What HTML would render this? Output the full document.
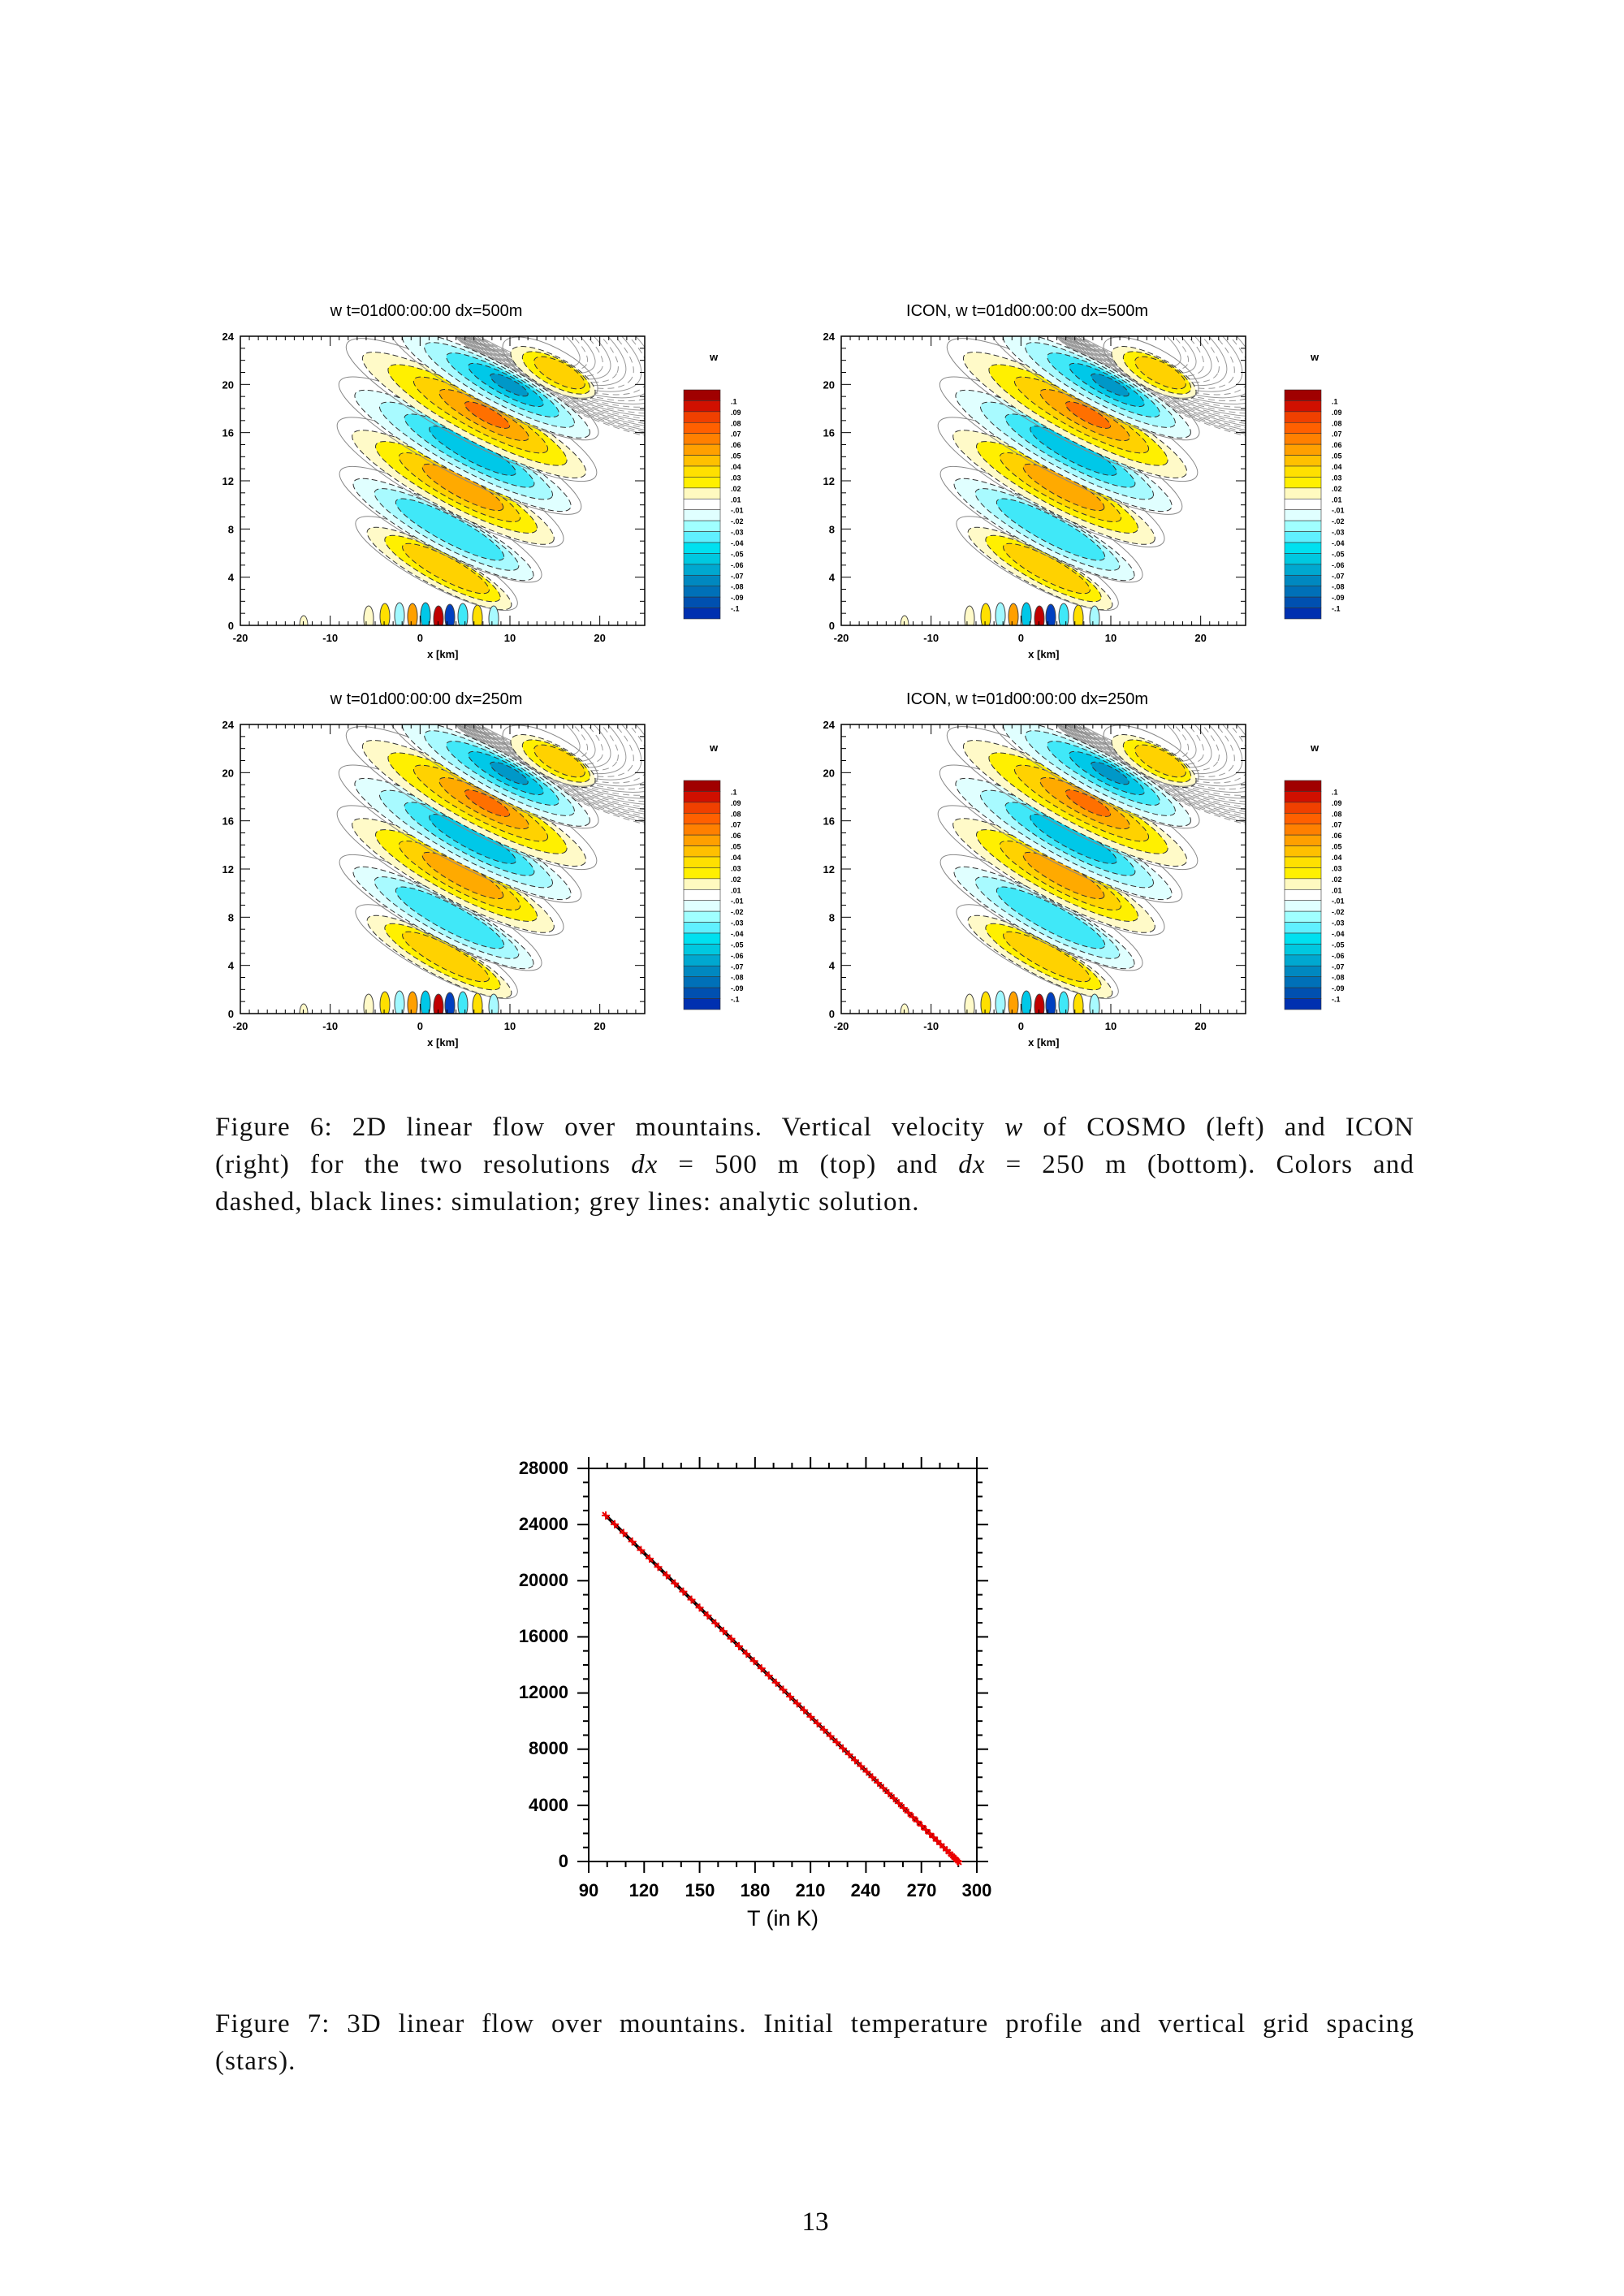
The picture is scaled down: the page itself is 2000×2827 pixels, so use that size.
<!DOCTYPE html>
<html><head><meta charset="utf-8">
<style>
html,body{margin:0;padding:0;background:#fff}
body{width:2000px;height:2827px;position:relative;overflow:hidden}
.cap{position:absolute;left:265px;width:1477px;font-family:"Liberation Serif",serif;font-size:33px;letter-spacing:1.1px;line-height:46px;text-align:justify;color:#111}
.cap .l{display:block;text-align-last:justify}
.cap .last{text-align-last:left}
svg text{font-family:"Liberation Sans",sans-serif}
</style></head><body>
<svg id="topsvg" width="2000" height="1340" style="position:absolute;left:0;top:0"></svg>
<div class="cap" style="top:1365px"><span class="l">Figure 6: 2D linear flow over mountains. Vertical velocity <i>w</i> of COSMO (left) and ICON</span><span class="l">(right) for the two resolutions <i>dx</i> = 500 m (top) and <i>dx</i> = 250 m (bottom). Colors and</span><span class="l last">dashed, black lines: simulation; grey lines: analytic solution.</span></div>
<svg width="2000" height="660" style="position:absolute;left:0;top:1760px">
<g transform="translate(0,-1760)" font-family="Liberation Sans,sans-serif">
<rect x="725" y="1808" width="478" height="484" fill="none" stroke="#000" stroke-width="2"/>
<g id="t2" stroke="#000" stroke-width="2"></g>
<line x1="746" y1="1866" x2="1180" y2="2292" stroke="#000" stroke-width="4"/>
<g id="stars" stroke="#e00" stroke-width="2"></g>
<g font-size="22" text-anchor="end" fill="#000" font-weight="bold">
<text x="700" y="1815">28000</text><text x="700" y="1884">24000</text><text x="700" y="1953">20000</text><text x="700" y="2022">16000</text><text x="700" y="2091">12000</text><text x="700" y="2160">8000</text><text x="700" y="2230">4000</text><text x="700" y="2299">0</text></g>
<g font-size="22" text-anchor="middle" fill="#000" font-weight="bold">
<text x="725" y="2335">90</text><text x="793" y="2335">120</text><text x="862" y="2335">150</text><text x="930" y="2335">180</text><text x="998" y="2335">210</text><text x="1066" y="2335">240</text><text x="1135" y="2335">270</text><text x="1203" y="2335">300</text>
<text x="964" y="2371" font-size="27" font-weight="normal">T (in K)</text></g>
</g></svg>
<div class="cap" style="top:2469px"><span class="l">Figure 7: 3D linear flow over mountains. Initial temperature profile and vertical grid spacing</span><span class="l last">(stars).</span></div>
<div style="position:absolute;top:2718px;left:0;width:2008px;text-align:center;font-family:'Liberation Serif',serif;font-size:33px">13</div>
<script>
var NS="http://www.w3.org/2000/svg";
function el(p,t,a,txt){var e=document.createElementNS(NS,t);for(var k in a)e.setAttribute(k,a[k]);if(txt!==undefined)e.textContent=txt;p.appendChild(e);return e;}
var svgTop=document.getElementById('topsvg');
var Y=["#fffac8","#fff000","#ffd200","#ffaa00","#ff7000"];
var B=["#e0ffff","#a8faff","#40e8f8","#00c8e8","#0098c8"];
var bands=[[245,286,100,22,Y,3],[250,238,125,25,B,3],[262,186,140,28,Y,4],[274,141,150,28,B,4],[288,97,155,30,Y,5],[315,60,130,26,B,5],[385,45,58,20,Y,3]];
var cb=["#a00000","#d01000","#f04000","#ff6000","#ff8000","#ffa000","#ffc000","#ffe000","#fff000","#fffac0","#ffffff","#e0ffff","#a0ffff","#60f0ff","#00e0f0","#00c8e0","#00a8d0","#0088c0","#0070b8","#0050b0","#0030b0"];
var labs=[".1",".09",".08",".07",".06",".05",".04",".03",".02",".01","-.01","-.02","-.03","-.04","-.05","-.06","-.07","-.08","-.09","-.1"];
function panel(x0,y0,title,cbx,cby){
 var W=498,H=356;
 el(svgTop,'text',{x:x0+W/2-20,y:y0-25,'font-size':20,'text-anchor':'middle'},title);
 var g=el(svgTop,'g',{transform:'translate('+x0+','+y0+')'});
 var cp=el(g,'clipPath',{id:'c'+x0+'_'+y0});el(cp,'rect',{x:0,y:0,width:W,height:H});
 var gg=el(g,'g',{'clip-path':'url(#c'+x0+'_'+y0+')'});
 for(var i=0;i<26;i++){el(gg,'ellipse',{cx:320+i*4,cy:-20,rx:110+i*6,ry:30+i*3,transform:'rotate(28 '+(320+i*4)+' -20)',fill:'none',stroke:'#999','stroke-width':1,'stroke-dasharray':i%2?'8 5':'none'});}
 bands.forEach(function(b){
  var n=b[5];
  for(var k=0;k<n;k++){var f=1-k*0.2;
   el(gg,'ellipse',{cx:b[0]+k*4,cy:b[1],rx:b[2]*f,ry:b[3]*(1-k*0.18),transform:'rotate(28 '+(b[0]+k*4)+' '+b[1]+')',fill:b[4][k],stroke:'#333','stroke-width':1,'stroke-dasharray':'7 4'});}
  el(gg,'ellipse',{cx:b[0]-6,cy:b[1]-4,rx:b[2]*1.12,ry:b[3]*1.25,transform:'rotate(28 '+b[0]+' '+b[1]+')',fill:'none',stroke:'#888','stroke-width':1});
 });
 var bl=[[158,348,'#fffac8'],[178,345,'#ffe000'],[196,344,'#a0f8ff'],[212,345,'#ffa000'],[228,344,'#00c8e8'],[244,348,'#c00000'],[258,346,'#0040c0'],[274,345,'#40e8f8'],[292,347,'#ffe000'],[312,348,'#a8faff']];
 bl.forEach(function(b){el(gg,'ellipse',{cx:b[0],cy:b[1],rx:6,ry:16,fill:b[2],stroke:'#444','stroke-width':1});});
 el(gg,'ellipse',{cx:78,cy:356,rx:5,ry:12,fill:'#fffac8',stroke:'#444'});
 el(g,'rect',{x:0,y:0,width:W,height:H,fill:'none',stroke:'#000','stroke-width':1.5});
 for(var z=0;z<=24;z++){var yy=H-z*H/24,L=z%4==0?12:6;el(g,'line',{x1:0,y1:yy,x2:L,y2:yy,stroke:'#000'});el(g,'line',{x1:W,y1:yy,x2:W-L,y2:yy,stroke:'#000'});
  if(z%4==0)el(g,'text',{x:-8,y:yy+5,'font-size':13,'font-weight':'bold','text-anchor':'end'},''+z);}
 for(var k=-20;k<=25;k++){var xx=(k+20)*W/45,L=k%10==0?12:5;el(g,'line',{x1:xx,y1:H,x2:xx,y2:H-L,stroke:'#000'});el(g,'line',{x1:xx,y1:0,x2:xx,y2:L,stroke:'#000'});
  if(k%10==0)el(g,'text',{x:xx,y:H+20,'font-size':13,'font-weight':'bold','text-anchor':'middle'},''+k);}
 el(g,'text',{x:W*20/45+28,y:H+40,'font-size':13,'font-weight':'bold','text-anchor':'middle'},'x [km]');
 var h=282/21;
 el(svgTop,'text',{x:cbx+37,y:cby-36,'font-size':13,'font-weight':'bold','text-anchor':'middle'},'w');
 cb.forEach(function(c,i){el(svgTop,'rect',{x:cbx,y:cby+i*h,width:45,height:h,fill:c,stroke:'#333','stroke-width':0.6});});
 labs.forEach(function(l,i){el(svgTop,'text',{x:cbx+58,y:cby+(i+1)*h+4,'font-size':9,'font-weight':'bold'},l);});
}
panel(296,414,"w t=01d00:00:00 dx=500m",842,480);
panel(1036,414,"ICON, w t=01d00:00:00 dx=500m",1582,480);
panel(296,892,"w t=01d00:00:00 dx=250m",842,961);
panel(1036,892,"ICON, w t=01d00:00:00 dx=250m",1582,961);
var t2=document.getElementById('t2');
for(var v=0;v<=28000;v+=1000){var y=2292-v*484/28000,L=v%4000==0?14:7;el(t2,'line',{x1:725,y1:y,x2:725-L,y2:y});el(t2,'line',{x1:1203,y1:y,x2:1203+L,y2:y});}
for(var t=90;t<=300;t+=10){var x=725+(t-90)*478/210,L=(t%30==0)?14:7;el(t2,'line',{x1:x,y1:2292,x2:x,y2:2292+L});el(t2,'line',{x1:x,y1:1808,x2:x,y2:1808-L});}
var st=document.getElementById('stars');
for(var i=0;i<60;i++){var f=Math.pow(i/59,1.5);var x=1180-f*434,y=2292-f*426;
 el(st,'line',{x1:x-5,y1:y,x2:x+5,y2:y});el(st,'line',{x1:x,y1:y-5,x2:x,y2:y+5});el(st,'line',{x1:x-4,y1:y-4,x2:x+4,y2:y+4});}
</script>
</body></html>
